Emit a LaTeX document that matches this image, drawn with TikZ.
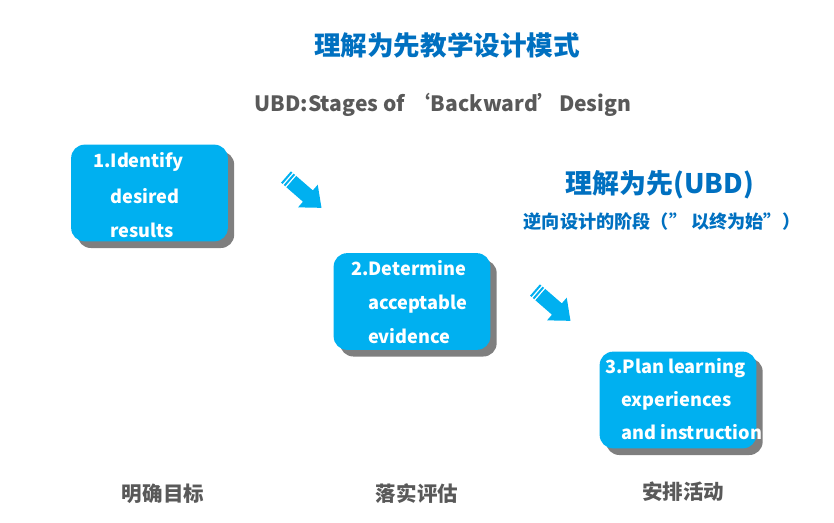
\documentclass[tikz,border=0pt]{standalone}
\usepackage{fontspec}
\setmainfont{Noto Sans CJK SC}
\usetikzlibrary{shadows}
\definecolor{ubdblue}{HTML}{0070C0}
\definecolor{stagecyan}{HTML}{00B0F0}
\definecolor{capgray}{HTML}{595959}
\definecolor{shadegray}{HTML}{7F7F7F}

\tikzset{
  stagebox/.style={fill=stagecyan, rounded corners=0.4cm, minimum width=4.7cm,
    minimum height=2.9cm, inner sep=0pt,
    drop shadow={shadow xshift=0.19cm, shadow yshift=-0.2cm, fill=shadegray, opacity=1}},
  stagetext/.style={anchor=base west, inner sep=0pt, text=white,
    font=\fontsize{15.5}{20}\selectfont\bfseries},
  caption/.style={text=capgray, font=\fontsize{17.5}{20}\selectfont\bfseries},
  pics/backarrow/.style={code={
    \fill[stagecyan] (0,-7.5) rectangle (2,7.5);
    \fill[stagecyan] (3.5,-7.5) rectangle (5.5,7.5);
    \fill[stagecyan] (7,-7.5) -- (29,-7.5) -- (29,-15) -- (47,0) -- (29,15)
      -- (29,7.5) -- (7,7.5) -- cycle;}}
}

\begin{document}
\begin{tikzpicture}[x=0.03cm, y=-0.03cm]
  \useasboundingbox (0,0) rectangle (834,522);

  \node[text=ubdblue, font=\fontsize{22.7}{26}\selectfont\bfseries] (title) at (447,45)
    {理解为先教学设计模式};
  \node[text=capgray, font=\fontsize{18}{20}\selectfont\bfseries] (subtitle) at (443,105)
    {UBD:Stages of ‘Backward’Design};

  % the three stages
  \node[stagebox] (s1) at (149.5,193) {};
  \node[stagebox] (s2) at (412,301.5) {};
  \node[stagebox] (s3) at (678,400) {};

  \node[stagetext] (s1a) at (93,167) {1.Identify};
  \node[stagetext] (s1b) at (110,203) {desired};
  \node[stagetext] (s1c) at (110,237) {results};
  \node[stagetext] (s2a) at (351,275) {2.Determine};
  \node[stagetext] (s2b) at (368,309) {acceptable};
  \node[stagetext] (s2c) at (368,343) {evidence};
  \node[stagetext] (s3a) at (605,373) {3.Plan learning};
  \node[stagetext] (s3b) at (621,406) {experiences};
  \node[stagetext] (s3c) at (621,439) {and instruction};

  \pic[rotate=-41] at (286,177) {backarrow};
  \pic[rotate=-41] at (535,290) {backarrow};

  \node[text=ubdblue, font=\fontsize{23}{26}\selectfont\bfseries] (ubd) at (660,185)
    {理解为先(UBD)};
  \node[text=ubdblue, font=\fontsize{15.5}{18}\selectfont\bfseries] (ubdsub) at (662,222)
    {逆向设计的阶段（” 以终为始”）};

  \node[caption] (c1) at (163,494) {明确目标};
  \node[caption] (c2) at (417,494) {落实评估};
  \node[caption] (c3) at (683,492) {安排活动};
\end{tikzpicture}
\end{document}
